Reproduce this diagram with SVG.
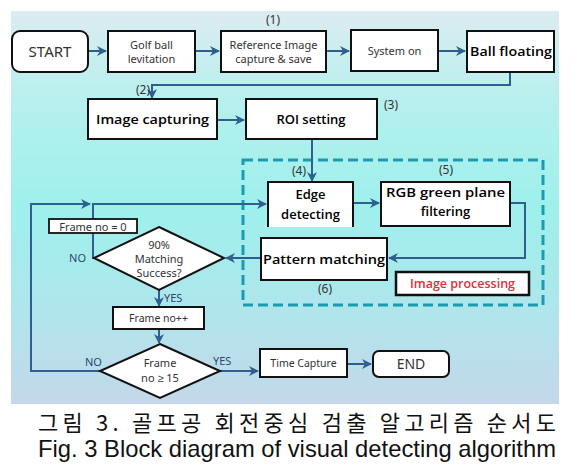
<svg xmlns="http://www.w3.org/2000/svg" width="579" height="470" viewBox="0 0 579 470">
<defs>
<linearGradient id="bg" x1="0" y1="0" x2="0" y2="1">
<stop offset="0" stop-color="#dcecf0"/>
<stop offset="0.25" stop-color="#b4f0ee"/>
<stop offset="0.5" stop-color="#9ef0ec"/>
<stop offset="0.75" stop-color="#aee6ec"/>
<stop offset="1" stop-color="#c4d8ea"/>
</linearGradient>
<marker id="arr" viewBox="0 0 10 10" refX="9" refY="5" markerWidth="5" markerHeight="5" orient="auto" markerUnits="strokeWidth">
<path d="M0,0 L10,5 L0,10 L3,5 Z" fill="#2d5f8f"/>
</marker>
<style>
.box{fill:#fff;stroke:#111;stroke-width:2}
.t{font-family:"Malgun Gothic","Noto Sans","Liberation Sans",sans-serif;fill:#333;text-anchor:middle;font-size:11px}
.b{font-family:"Open Sans","Liberation Sans",sans-serif;fill:#000;text-anchor:middle;font-size:13px;font-weight:600}
.n{font-family:"Noto Sans","Liberation Sans",sans-serif;fill:#333;text-anchor:middle;font-size:12px}
.c{fill:none;stroke:#2d5f8f;stroke-width:2}
.lbl{font-family:"Noto Sans","Liberation Sans",sans-serif;fill:#2a4a6a;font-size:11px}
</style>
</defs>
<rect x="11" y="11" width="548" height="393" fill="url(#bg)"/>

<g id="imgproc-region">
<rect x="243" y="160" width="300" height="145" fill="none" stroke="#1c9bb0" stroke-width="3" stroke-dasharray="10 5"/>
</g>

<g id="connectors">
<path class="c" d="M88,51 H106" marker-end="url(#arr)"/>
<path class="c" d="M195,51 H219" marker-end="url(#arr)"/>
<path class="c" d="M326,51 H349" marker-end="url(#arr)"/>
<path class="c" d="M438,51 H465" marker-end="url(#arr)"/>
<path class="c" d="M510,72 V85 H152 V98" marker-end="url(#arr)"/>
<path class="c" d="M217,120 H244" marker-end="url(#arr)"/>
<path class="c" d="M312,139 V181" marker-end="url(#arr)"/>
<path class="c" d="M353,203 H379" marker-end="url(#arr)"/>
<path class="c" d="M510,203 H525 V258 H389" marker-end="url(#arr)"/>
<path class="c" d="M261,258 H226" marker-end="url(#arr)"/>
<path class="c" d="M94,258 H93 V204 H266" marker-end="url(#arr)"/>
<path class="c" d="M100,371 H31 V204 H90" marker-end="url(#arr)"/>
<path class="c" d="M159,290 V306" marker-end="url(#arr)"/>
<path class="c" d="M159,329 V343" marker-end="url(#arr)"/>
<path class="c" d="M220,371 H258" marker-end="url(#arr)"/>
<path class="c" d="M347,364 H371" marker-end="url(#arr)"/>
</g>

<g id="start"><rect class="box" x="12" y="31" width="76" height="41" rx="8"/><text class="t" x="50" y="57" style="font-size:15px">START</text></g>
<g id="levitation"><rect class="box" x="108" y="31" width="87" height="41"/><text class="t" x="151.5" y="49">Golf ball</text><text class="t" x="151.5" y="63">levitation</text></g>
<g id="reference"><rect class="box" x="221" y="31" width="105" height="41"/><text class="t" x="273.5" y="49">Reference Image</text><text class="t" x="273.5" y="63">capture &amp; save</text></g>
<g id="system-on"><rect class="box" x="351" y="30" width="87" height="41"/><text class="t" x="394.5" y="55">System on</text></g>
<g id="ball-floating"><rect class="box" x="467" y="31" width="87" height="41"/><text class="b" x="511" y="56" textLength="82" lengthAdjust="spacingAndGlyphs">Ball floating</text></g>
<text class="n" x="273" y="24">(1)</text>
<text class="n" x="143" y="94">(2)</text>

<g id="image-capturing"><rect class="box" x="88" y="99" width="129" height="40"/><text class="b" x="152.5" y="124" textLength="113" lengthAdjust="spacingAndGlyphs">Image capturing</text></g>
<g id="roi-setting"><rect class="box" x="246" y="99" width="131" height="40"/><text class="b" x="311" y="124">ROI setting</text></g>
<text class="n" x="391" y="109">(3)</text>

<g id="edge-detecting"><rect x="268" y="182" width="85" height="45" fill="#fff"/><path d="M268,227 V182 H353 V227" fill="none" stroke="#111" stroke-width="2"/><text class="b" x="310.5" y="199">Edge</text><text class="b" x="310.5" y="219">detecting</text></g>
<g id="rgb-filtering"><rect class="box" x="381" y="182" width="129" height="44"/><text class="b" x="445.5" y="197" textLength="119" lengthAdjust="spacingAndGlyphs">RGB  green plane</text><text class="b" x="445.5" y="216">filtering</text></g>
<g id="pattern-matching"><rect class="box" x="261" y="238" width="126" height="42"/><text class="b" x="324" y="264" textLength="122" lengthAdjust="spacingAndGlyphs">Pattern matching</text></g>
<g id="image-processing"><rect class="box" x="396" y="272" width="133" height="23" style="stroke-width:2.5"/><text class="b" x="462.5" y="288" style="fill:#e0303a;font-size:12.5px">Image processing</text></g>
<text class="n" x="299" y="175">(4)</text>
<text class="n" x="446" y="174">(5)</text>
<text class="n" x="325" y="293">(6)</text>

<g id="frame-zero"><rect class="box" x="49" y="219" width="88" height="14" style="stroke-width:1.8"/><text class="t" x="93" y="230.5">Frame no = 0</text></g>
<g id="matching"><polygon class="box" points="159,227 224,258 159,290 94,258"/><text class="t" x="159" y="249">90%</text><text class="t" x="159" y="263">Matching</text><text class="t" x="159" y="277">Success?</text></g>
<text class="lbl" x="86" y="262" text-anchor="end">NO</text>
<text class="lbl" x="164" y="302">YES</text>

<g id="frame-inc"><rect class="box" x="113" y="307" width="91" height="22"/><text class="t" x="158.5" y="322" style="font-size:10.5px">Frame no++</text></g>
<g id="frame-check"><polygon class="box" points="160,344 220,371 160,398 100,371"/><text class="t" x="160" y="367">Frame</text><text class="t" x="160" y="382">no ≥ 15</text></g>
<text class="lbl" x="85" y="366">NO</text>
<text class="lbl" x="213" y="365">YES</text>

<g id="time-capture"><rect class="box" x="260" y="349" width="87" height="28"/><text class="t" x="303.5" y="367" style="font-size:10.5px">Time Capture</text></g>
<g id="end"><rect class="box" x="373" y="351" width="76" height="26" rx="6"/><text class="t" x="411" y="369" style="font-size:14px">END</text></g>

<text x="38" y="431" font-family="'Noto Sans CJK KR','Noto Sans',sans-serif" font-size="22" fill="#111" textLength="518" lengthAdjust="spacing">그림 3. 골프공 회전중심 검출 알고리즘 순서도</text>
<text x="38" y="457" font-family="'Liberation Sans','Noto Sans',sans-serif" font-size="24" fill="#111" textLength="518" lengthAdjust="spacingAndGlyphs">Fig. 3 Block diagram of visual detecting algorithm</text>
</svg>
